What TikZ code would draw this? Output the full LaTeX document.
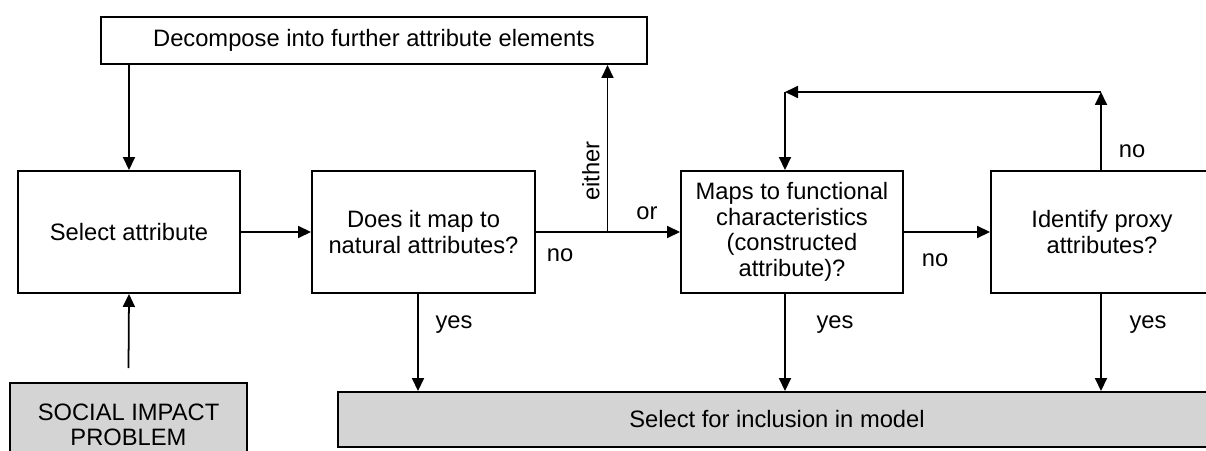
\documentclass[tikz,border=0pt]{standalone}
\usepackage{fontspec}
\setmainfont{Liberation Sans}
\usetikzlibrary{arrows.meta}
\definecolor{boxgrey}{RGB}{212,212,212}

\begin{document}
\begin{tikzpicture}[font=\fontsize{13.5}{14.5}\selectfont,
  box/.style={rectangle,draw=black,line width=1.1pt,align=center,minimum width=4.44cm,minimum height=2.44cm,inner sep=2pt},
  greybox/.style={box,fill=boxgrey},
  arr/.style={-{Triangle[length=2.6mm,width=2.4mm]},line width=1pt},
  lbl/.style={inner sep=1pt}]
\clip (0,0) rectangle (24.12,9);
%boxes
\path (7.48,8.19) node(decomp) [box,minimum width=10.92cm,minimum height=0.94cm]{Decompose into further attribute elements};
\path (2.58,4.36) node(selatt) [box]{Select attribute};
\path (8.47,4.36) node(doesmap) [box,minimum width=4.46cm]{Does it map to\\natural attributes?};
\path (15.84,4.36) node(maps) [box]{Maps to functional\\characteristics\\(constructed\\attribute)?};
\path (22.04,4.36) node(identify) [box]{Identify proxy\\attributes?};
\path (2.57,0.5) node(social) [greybox,minimum width=4.74cm,minimum height=1.68cm]{SOCIAL IMPACT\\PROBLEM};
\path (15.54,0.61) node(inclusion) [greybox,minimum width=17.56cm,minimum height=1.1cm]{Select for inclusion in model};

%connectors
\coordinate (split) at (12.15,4.36);
\coordinate (loopR) at (22.02,7.16);
\coordinate (loopL) at (15.7,7.16);
\draw[arr] (selatt.north |- decomp.south) -- (selatt.north);
\draw[arr] ([yshift=0.28cm]social.north) -- (selatt.south);
\draw[arr] (selatt.east) -- (doesmap.west);
\draw[line width=1pt] (doesmap.east) -- (split);
\draw[arr] (split) -- (maps.west);
\draw[arr] (split) -- (split |- decomp.south);
\draw[arr] (maps.east) -- (identify.west);
\draw[arr] (loopR |- identify.north) -- (loopR);
\draw[arr] (loopR) -- (loopL);
\draw[arr] (loopL) -- (loopL |- maps.north);
\foreach \n/\x in {doesmap/8.36,maps/15.7,identify/22.02}{
  \coordinate (tmp) at (\x,0);
  \draw[arr] (tmp |- \n.south) -- (tmp |- inclusion.north);
}

%labels
\path (11.2,3.9) node(nodoes) [lbl]{no};
\path (12.94,4.74) node(orlbl) [lbl]{or};
\path (11.82,5.58) node(eitherlbl) [lbl,rotate=90]{either};
\path (18.7,3.8) node(nomaps) [lbl]{no};
\path (22.64,5.98) node(noproxy) [lbl]{no};
\path (9.08,2.5) node(yesdoes) [lbl]{yes};
\path (16.7,2.5) node(yesmaps) [lbl]{yes};
\path (22.96,2.5) node(yesproxy) [lbl]{yes};
\end{tikzpicture}
\end{document}
